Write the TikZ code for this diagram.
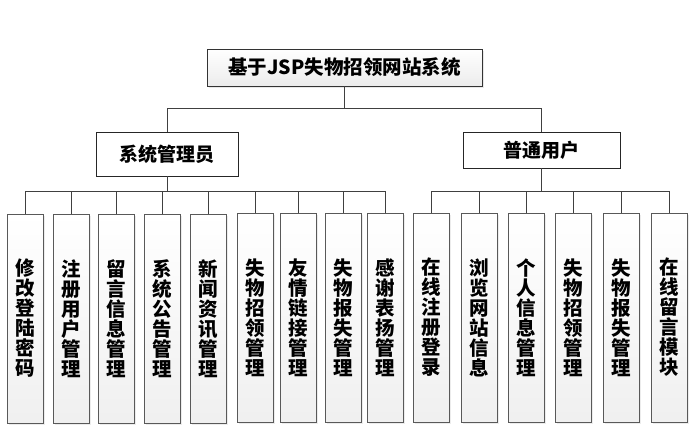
\documentclass[tikz,border=0pt]{standalone}
\usepackage{fontspec}
\usepackage{tikz}
\usetikzlibrary{shadows}
\newfontfamily\cjk{Noto Sans CJK SC}
\tikzset{
  rootbox/.style={draw=black!80,top color=white,bottom color=gray!15,
    minimum width=275pt,minimum height=37pt,inner sep=0pt,
    drop shadow={shadow xshift=2pt,shadow yshift=-2pt,fill=gray!35},
    font=\cjk\bfseries\fontsize{19.5}{21}\selectfont},
  rolebox/.style={draw=black!85,fill=white,inner sep=0pt,
    font=\cjk\bfseries\fontsize{19}{21}\selectfont},
  leaf/.style={draw=black!65,top color=white,bottom color=gray!12,
    minimum width=36pt,minimum height=209pt,inner sep=0pt,align=center,
    drop shadow={shadow xshift=1.5pt,shadow yshift=-1.5pt,fill=gray!30},
    font=\cjk\bfseries\fontsize{19.5}{20}\selectfont},
  link/.style={draw=black!75,line width=0.8pt}
}
\begin{document}
\begin{tikzpicture}[x=1pt,y=-1pt]
    \useasboundingbox (0,0) rectangle (698,428);
    % top level
    \node[rootbox] (root) at (344.5,67.5) {基于JSP失物招领网站系统};
    \node[rolebox,minimum width=142pt,minimum height=44pt] (admin) at (167,154) {系统管理员};
    \node[rolebox,minimum width=157pt,minimum height=36pt] (user) at (541.5,150) {普通用户};
    % admin functions
    \node[leaf] (a1) at (25,318.5) {修\\改\\登\\陆\\密\\码};
    \node[leaf] (a2) at (71,318.5) {注\\册\\用\\户\\管\\理};
    \node[leaf] (a3) at (116,318.5) {留\\言\\信\\息\\管\\理};
    \node[leaf] (a4) at (162,318.5) {系\\统\\公\\告\\管\\理};
    \node[leaf] (a5) at (208.5,318.5) {新\\闻\\资\\讯\\管\\理};
    \node[leaf] (a6) at (255,317.5) {失\\物\\招\\领\\管\\理};
    \node[leaf] (a7) at (298,317.5) {友\\情\\链\\接\\管\\理};
    \node[leaf] (a8) at (343,317.5) {失\\物\\报\\失\\管\\理};
    \node[leaf] (a9) at (385.5,317.5) {感\\谢\\表\\扬\\管\\理};
    % user functions
    \node[leaf] (u1) at (431.5,317.5) {在\\线\\注\\册\\登\\录};
    \node[leaf] (u2) at (479.5,317.5) {浏\\览\\网\\站\\信\\息};
    \node[leaf] (u3) at (526,317.5) {个\\人\\信\\息\\管\\理};
    \node[leaf] (u4) at (573.5,317.5) {失\\物\\招\\领\\管\\理};
    \node[leaf] (u5) at (621.5,317.5) {失\\物\\报\\失\\管\\理};
    \node[leaf] (u6) at (669.5,317.5) {在\\线\\留\\言\\模\\块};
    % connectors
    \draw[link] (root.south) -- ++(0,22) -| (admin.north);
    \draw[link] (root.south) -- ++(0,22) -| (user.north);
    \foreach \n in {a1,a2,a3,a4,a5,a6,a7,a8,a9}
      \draw[link] (admin.south) -- ++(0,15) -| (\n.north);
    \foreach \n in {u1,u2,u3,u4,u5,u6}
      \draw[link] (user.south) -- ++(0,23) -| (\n.north);
  \end{tikzpicture}
\end{document}
